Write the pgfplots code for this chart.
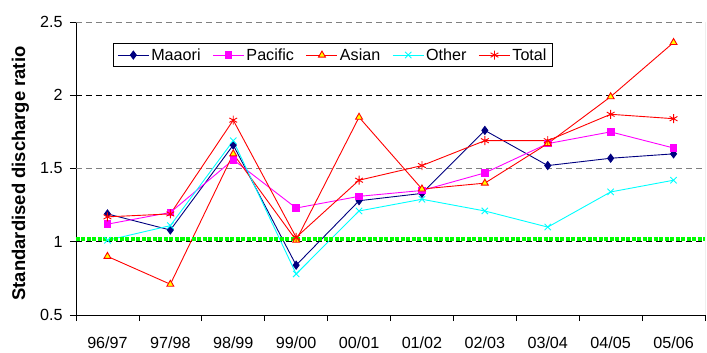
\documentclass[border=0pt]{standalone}
\usepackage{fontspec}
\setmainfont{Liberation Sans}
\usepackage{pgfplots}
\pgfplotsset{compat=1.18}

\definecolor{maaori}{RGB}{0,0,128}
\definecolor{pacific}{RGB}{255,0,255}
\definecolor{asian}{RGB}{255,0,0}
\definecolor{asianfill}{RGB}{255,255,0}
\definecolor{other}{RGB}{0,255,255}
\definecolor{total}{RGB}{255,0,0}
\definecolor{refline}{RGB}{0,255,0}

\newcommand{\chartfont}{\fontsize{16.2}{19}\selectfont}

\begin{document}
\begin{tikzpicture}
\begin{axis}[
  at={(0,0)}, anchor=south west,
  scale only axis, width=629bp, height=293bp,
  xmin=-0.5, xmax=9.5, ymin=0.5, ymax=2.5,
  axis x line*=bottom, axis y line*=left,
  axis line style={black, line width=0.8bp},
  xtick={-0.5,0.5,...,9.5},
  x tick label as interval,
  xticklabels={96/97,97/98,98/99,99/00,00/01,01/02,02/03,03/04,04/05,05/06},
  ytick={0.5,1,2},
  extra y ticks={1.5,2.5},
  extra y tick style={major grid style={draw=gray, dash pattern=on 6bp off 4bp, line width=0.9bp}},
  ymajorgrids,
  major grid style={draw=black, dash pattern=on 6bp off 4bp, line width=0.8bp},
  tick align=outside,
  major tick length=6bp,
  tick style={black, line width=0.8bp},
  /pgf/number format/assume math mode=true,
  tick label style={font=\chartfont},
  every x tick label/.append style={inner sep=0pt, yshift=-16bp},
  every y tick label/.append style={xshift=-4bp},
  ylabel={\bfseries Standardised discharge ratio},
  y label style={at={(axis description cs:-0.0882,0.483)}, anchor=center, font=\fontsize{18.5}{21}\selectfont},
  legend columns=5,
  legend style={at={(axis description cs:0.0588,0.928)}, anchor=north west,
    draw=black, line width=0.8bp, font=\chartfont, inner xsep=4bp, inner ysep=3bp,
    /tikz/every even column/.append style={column sep=10bp}},
  legend image code/.code={\draw[mark repeat=2,mark phase=2] plot coordinates {(0bp,0bp) (15.5bp,0bp) (31bp,0bp)};},
  every axis plot/.append style={line width=0.9bp},
]
\addplot[color=maaori, mark=diamond*, mark size=4bp, mark options={fill=maaori}]
  coordinates {(0,1.19) (1,1.08) (2,1.66) (3,0.84) (4,1.28) (5,1.33) (6,1.76) (7,1.52) (8,1.57) (9,1.60)};
\addlegendentry{Maaori}
\addplot[color=pacific, mark=square*, mark size=3.3bp, mark options={fill=pacific}]
  coordinates {(0,1.12) (1,1.20) (2,1.56) (3,1.23) (4,1.31) (5,1.35) (6,1.47) (7,1.67) (8,1.75) (9,1.64)};
\addlegendentry{Pacific}
\addplot[color=asian, mark=triangle*, mark size=4bp, mark options={fill=asianfill, draw=asian}]
  coordinates {(0,0.90) (1,0.71) (2,1.60) (3,1.01) (4,1.85) (5,1.36) (6,1.40) (7,1.67) (8,1.99) (9,2.36)};
\addlegendentry{Asian}
\addplot[color=other, mark=x, mark size=4.5bp]
  coordinates {(0,1.01) (1,1.11) (2,1.69) (3,0.78) (4,1.21) (5,1.29) (6,1.21) (7,1.10) (8,1.34) (9,1.42)};
\addlegendentry{Other}
\addplot[color=total, mark=asterisk, mark size=4.5bp]
  coordinates {(0,1.17) (1,1.19) (2,1.83) (3,1.03) (4,1.42) (5,1.52) (6,1.69) (7,1.69) (8,1.87) (9,1.84)};
\addlegendentry{Total}
% reference ratio line
\addplot[forget plot, color=refline, line width=3.6bp, dash pattern=on 4bp off 1.5bp]
  coordinates {(-0.5,1.02) (9.5,1.02)};
\draw[gray, line width=0.9bp] (rel axis cs:1,0) -- (rel axis cs:1,1);
\end{axis}
\pgfresetboundingbox
\path (-76bp,-38bp) rectangle (631bp,315bp);
\end{tikzpicture}
\end{document}
